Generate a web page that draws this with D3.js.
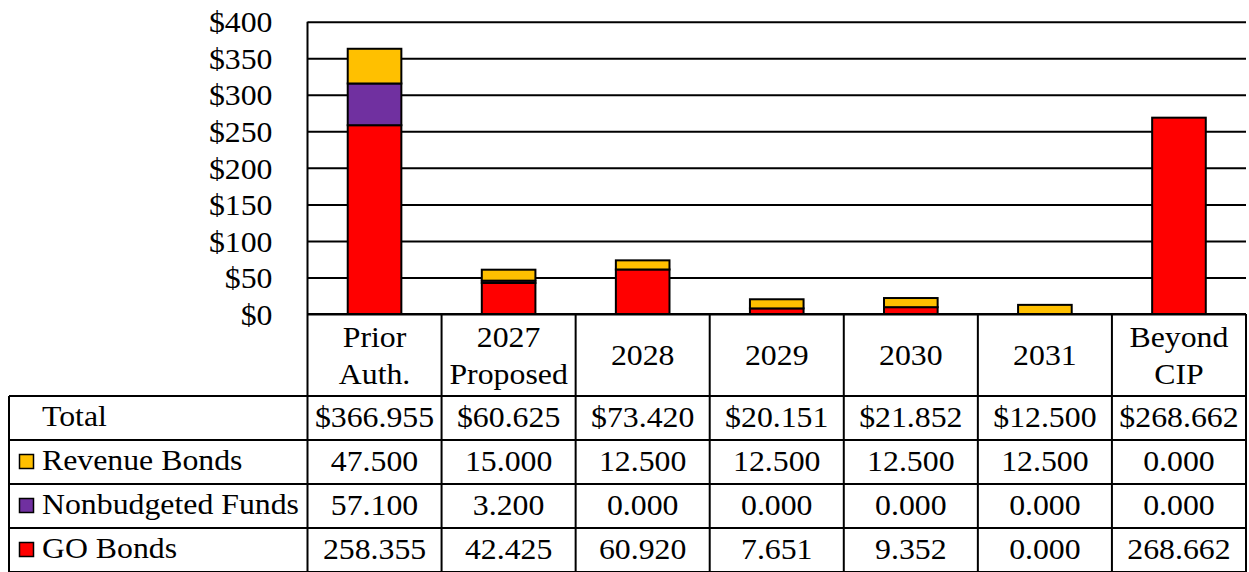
<!DOCTYPE html>
<html>
<head>
<meta charset="utf-8">
<script src="https://cdn.jsdelivr.net/npm/d3@7"></script>
<style>
  body { margin: 0; background: #fff; }
  text { font-family: "Liberation Serif", "Times New Roman", Times, serif; font-size: 30px; fill: #000; }
</style>
</head>
<body>
<svg id="chart" width="1249" height="572"></svg>
<script>
// categories and header lines
var categories = ["Prior Auth.", "2027 Proposed", "2028", "2029", "2030", "2031", "Beyond CIP"];
var headerLines = [["Prior", "Auth."], ["2027", "Proposed"], ["2028"], ["2029"], ["2030"], ["2031"], ["Beyond", "CIP"]];

// series values (millions)
var goBonds      = [258.355, 42.425, 60.920, 7.651, 9.352, 0.000, 268.662];
var nonbudgeted  = [57.100, 3.200, 0.000, 0.000, 0.000, 0.000, 0.000];
var revenueBonds = [47.500, 15.000, 12.500, 12.500, 12.500, 12.500, 0.000];
var totals       = [366.955, 60.625, 73.420, 20.151, 21.852, 12.500, 268.662];

var yTicks = [0, 50, 100, 150, 200, 250, 300, 350, 400];

var seriesNames = ["GO Bonds", "Nonbudgeted Funds", "Revenue Bonds"];
var seriesColors = ["#ff0000", "#7030a0", "#ffc000"];

var plotLeft = 307.5, plotRight = 1246, plotTop = 21.7, plotBottom = 314;
var rowH = 44, headerBottom = 396;
var tableLeft = 9;
var sx = 1.06; // glyphs in the reference are a bit wide
var fontFam = '"Liberation Serif", "Times New Roman", Times, serif';

var svg = d3.select('#chart');

function addText(g, x, y, str, anchor){
  return g.append('text')
    .attr('transform', 'translate(' + x + ',' + y + ') scale(' + sx + ',1)')
    .attr('text-anchor', anchor || 'middle')
    .attr('dy', '0.34em')
    .style('font-family', fontFam)
    .style('font-size', '30px')
    .text(str);
}

var x = d3.scaleBand().domain(categories).range([plotLeft, plotRight]).padding(0);
var y = d3.scaleLinear().domain([0, 400]).range([plotBottom, plotTop]);

// gridlines + tick labels
var yAxis = svg.append('g')
  .attr('transform', 'translate(' + plotLeft + ',0)')
  .call(d3.axisLeft(y).tickValues(yTicks).tickSize(-(plotRight - plotLeft)).tickPadding(35).tickFormat(function(d){ return '$' + d; }));
yAxis.select('.domain').remove();
yAxis.selectAll('.tick line').attr('stroke', '#000').attr('stroke-width', 2);
yAxis.selectAll('.tick text').each(function(){
  var t = d3.select(this);
  var xx = +t.attr('x');
  t.attr('x', null).attr('dy', '0.34em')
   .attr('transform', 'translate(' + xx + ',0) scale(' + sx + ',1)')
   .style('font-family', fontFam)
   .style('font-size', '30px')
   .attr('fill', '#000');
});

// stacked bars
var rows = categories.map(function(c, i){
  return { cat: c, go: goBonds[i], nb: nonbudgeted[i], rev: revenueBonds[i] };
});
var stack = d3.stack().keys(['go', 'nb', 'rev']);
var stacked = stack(rows);
var barW = x.bandwidth() * 0.4;

svg.append('g').selectAll('g')
  .data(stacked)
  .join('g')
    .attr('fill', function(d, i){ return seriesColors[i]; })
  .selectAll('rect')
  .data(function(d){ return d.filter(function(s){ return s[1] - s[0] > 0; }); })
  .join('rect')
    .attr('x', function(d){ return x(d.data.cat) + (x.bandwidth() - barW) / 2; })
    .attr('y', function(d){ return y(d[1]); })
    .attr('width', barW)
    .attr('height', function(d){ return y(d[0]) - y(d[1]); })
    .attr('stroke', '#000')
    .attr('stroke-width', 2);

// plot frame: left axis line, bottom line
var frame = svg.append('g').attr('stroke', '#000').attr('stroke-width', 2);
frame.append('line').attr('x1', plotLeft).attr('x2', plotLeft).attr('y1', plotTop).attr('y2', 574);
frame.append('line').attr('x1', plotLeft).attr('x2', plotRight).attr('y1', plotBottom).attr('y2', plotBottom);

// table
var tableBottom = headerBottom + rowH * 4;
var tbl = svg.append('g');
var lines = tbl.append('g').attr('stroke', '#000').attr('stroke-width', 2);

// column separators
categories.forEach(function(c){
  lines.append('line').attr('x1', x(c) + x.bandwidth()).attr('x2', x(c) + x.bandwidth())
    .attr('y1', plotBottom).attr('y2', tableBottom + 2);
});
// horizontal lines under header and between rows
for (var r = 0; r <= 4; r++){
  var yy = headerBottom + r * rowH;
  lines.append('line').attr('x1', tableLeft).attr('x2', plotRight).attr('y1', yy).attr('y2', yy);
}
lines.append('line').attr('x1', tableLeft).attr('x2', tableLeft).attr('y1', headerBottom).attr('y2', tableBottom + 2);

// header labels
categories.forEach(function(c, i){
  var cx = x(c) + x.bandwidth() / 2;
  var ls = headerLines[i];
  var mid = (plotBottom + headerBottom) / 2;
  ls.forEach(function(l, j){
    addText(tbl, cx, mid + (j - (ls.length - 1) / 2) * 37, l);
  });
});

// row labels and values
var tableRows = [
  { label: 'Total', vals: totals, fmt: function(v){ return '$' + d3.format('.3f')(v); }, color: null },
  { label: 'Revenue Bonds', vals: revenueBonds, fmt: d3.format('.3f'), color: seriesColors[2] },
  { label: 'Nonbudgeted Funds', vals: nonbudgeted, fmt: d3.format('.3f'), color: seriesColors[1] },
  { label: 'GO Bonds', vals: goBonds, fmt: d3.format('.3f'), color: seriesColors[0] }
];

tableRows.forEach(function(row, r){
  var cy = headerBottom + r * rowH + rowH / 2;
  if (row.color){
    tbl.append('rect').attr('x', 19.5).attr('y', cy - 7.5).attr('width', 14).attr('height', 14)
      .attr('fill', row.color).attr('stroke', '#000').attr('stroke-width', 1.5);
  }
  addText(tbl, 42, cy - 2, row.label, 'start');
  row.vals.forEach(function(v, i){
    addText(tbl, x(categories[i]) + x.bandwidth() / 2, cy - 1, row.fmt(v));
  });
});
</script>
</body>
</html>
